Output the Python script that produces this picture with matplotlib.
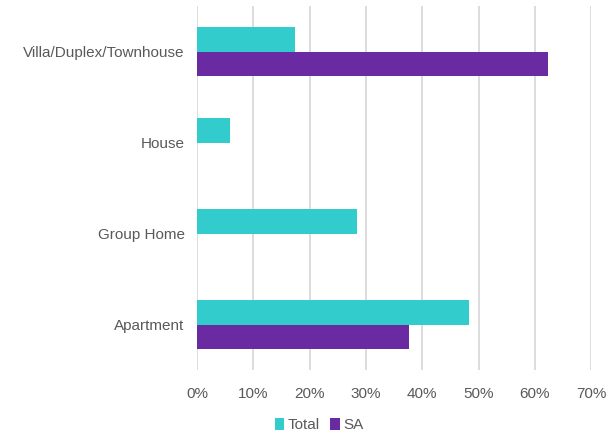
import matplotlib.pyplot as plt
import numpy as np

categories = ['Villa/Duplex/Townhouse', 'House', 'Group Home', 'Apartment']
total = [17.4, 5.9, 28.4, 48.3]
sa = [62.3, 0, 0, 37.6]

plt.rcParams['font.family'] = ['Liberation Sans', 'DejaVu Sans']
text_color = '#595959'

fig = plt.figure(figsize=(6.1, 4.32), dpi=100)
ax = fig.add_axes([0.323, 0.1435, 0.646, 0.8425])

y = np.arange(len(categories))
h = 0.265
ax.barh(y - h / 2, total, h, color='#33CCCC', label='Total', zorder=3)
ax.barh(y + h / 2, sa, h, color='#6A2BA2', label='SA', zorder=3)

ax.set_xlim(0, 70)
ax.set_ylim(3.5, -0.5)
ax.set_xticks(range(0, 71, 10))
ax.set_xticklabels([f'{v}%' for v in range(0, 71, 10)])
ax.set_yticks(y)
ax.set_yticklabels(categories)
ax.tick_params(axis='both', length=0, labelsize=11, colors=text_color)
ax.tick_params(axis='x', pad=12)
ax.tick_params(axis='y', pad=9)
ax.grid(axis='x', color='#D9D9D9', linewidth=1.3, zorder=0)
for s in ax.spines.values():
    s.set_visible(False)

ax.legend(loc='center', bbox_to_anchor=(0.31, -0.152), ncol=2, frameon=False,
          fontsize=11, labelcolor=text_color, handlelength=0.6, handleheight=0.8,
          handletextpad=0.25, columnspacing=0.7, borderpad=0.1)

fig.savefig('out.png', dpi=100)
